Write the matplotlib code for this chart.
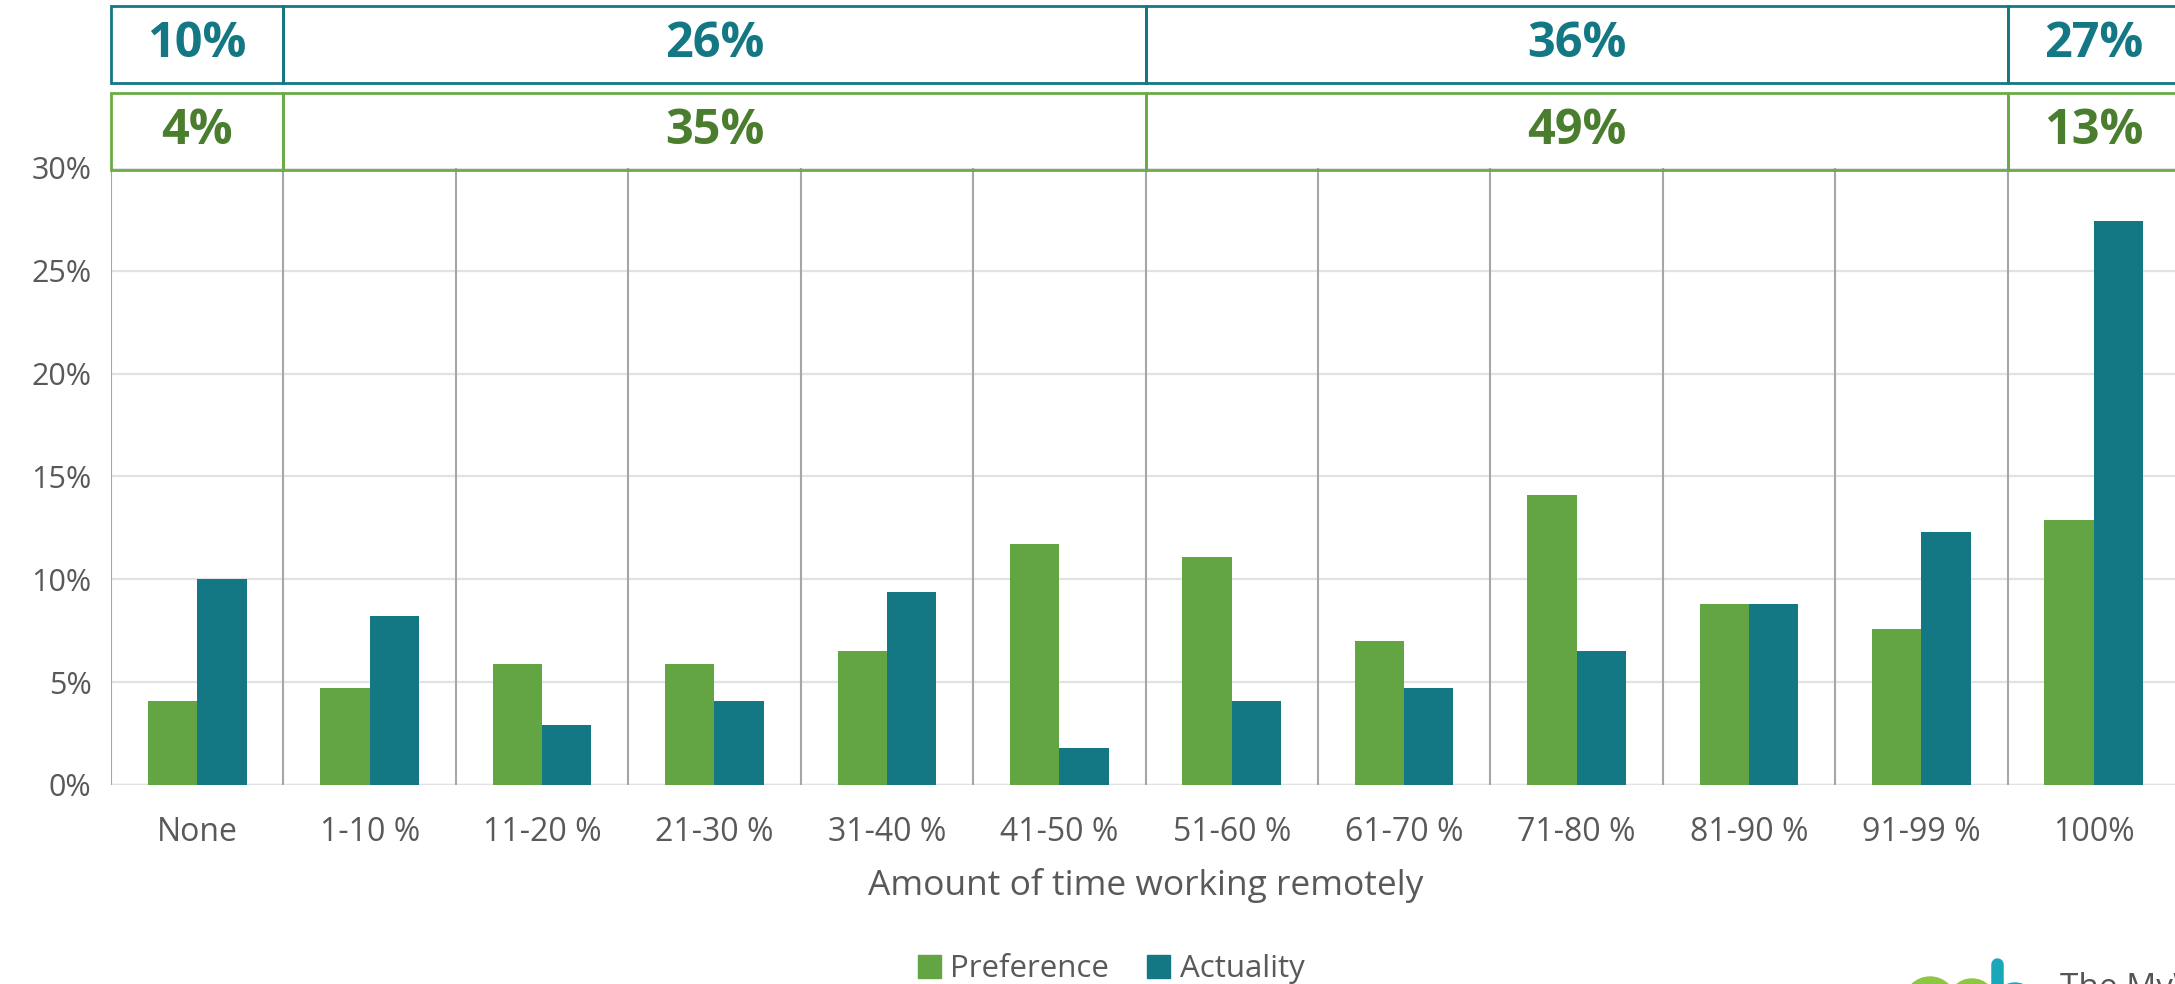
import matplotlib
matplotlib.use("Agg")
import matplotlib.pyplot as plt
import numpy as np
from matplotlib.patches import Rectangle, Circle, Patch
from matplotlib.transforms import blended_transform_factory

plt.rcParams["font.family"] = ["Open Sans", "DejaVu Sans"]

categories = ["None", "1-10 %", "11-20 %", "21-30 %", "31-40 %", "41-50 %",
              "51-60 %", "61-70 %", "71-80 %", "81-90 %", "91-99 %", "100%"]
preference = [4.1, 4.7, 5.9, 5.9, 6.5, 11.7, 11.1, 7.0, 14.1, 8.8, 7.6, 12.9]
actuality = [10.0, 8.2, 2.9, 4.1, 9.4, 1.8, 4.1, 4.7, 6.5, 8.8, 12.3, 27.4]
# category index ranges that are summed in the header boxes
groups = [(0, 1), (1, 6), (6, 11), (11, 12)]

GREEN = "#63a443"
TEAL = "#137884"
GREEN_TXT = "#4a7d2e"
GREY_TXT = "#595959"

W, H = 2175, 984
fig = plt.figure(figsize=(W / 100, H / 100), dpi=100)
ax = fig.add_axes([111 / W, 199 / H, 2069 / W, 617 / H])

x = np.arange(len(categories))
bw = 0.286
ax.bar(x - bw / 2, preference, bw, color=GREEN, label="Preference")
ax.bar(x + bw / 2, actuality, bw, color=TEAL, label="Actuality")

ax.set_xlim(-0.5, len(categories) - 0.5)
ax.set_ylim(0, 30)
ax.set_yticks(range(0, 31, 5))
ax.set_yticklabels([f"{v}%" for v in range(0, 31, 5)])
ax.set_xticks(x)
ax.set_xticklabels(categories)
ax.tick_params(length=0, colors=GREY_TXT)
ax.tick_params(axis="x", pad=22, labelsize=23)
ax.tick_params(axis="y", pad=14, labelsize=22)
for s in ax.spines.values():
    s.set_visible(False)
ax.yaxis.grid(True, color="#e2e2e2", lw=1.6)
ax.set_axisbelow(True)
ax.axhline(0, color="#e2e2e2", lw=2.5, zorder=0)

# category separators
for b in np.arange(-0.5, len(categories) - 0.5, 1.0):
    ax.plot([b, b], [0, 30], color="#a3a6aa", lw=1.5, zorder=1)

ax.set_xlabel("Amount of time working remotely", fontsize=25.5, color=GREY_TXT,
              labelpad=14)

# header boxes with group totals
tr = blended_transform_factory(ax.transData, fig.transFigure)
rows = [(actuality, TEAL, TEAL, 901 / H, 77 / H),
        (preference, "#6aab48", GREEN_TXT, 814 / H, 77 / H)]
for vals, edge, tcol, y0, h in rows:
    for a, b in groups:
        total = sum(vals[a:b])
        r = Rectangle((a - 0.5, y0), b - a, h, transform=tr, fill=False,
                      edgecolor=edge, lw=2, clip_on=False)
        fig.add_artist(r)
        fig.text((a + b - 1) / 2, y0 + h / 2, f"{round(total)}%", transform=tr,
                 ha="center", va="center", fontsize=35, fontweight="bold",
                 color=tcol)

handles = [Patch(color=GREEN), Patch(color=TEAL)]
fig.legend(handles, ["Preference", "Actuality"], loc="center",
           bbox_to_anchor=(1111 / W, 15 / H), ncol=2, frameon=False,
           fontsize=22.5, labelcolor=GREY_TXT, handlelength=0.75,
           handleheight=0.75, handletextpad=0.3, columnspacing=1.2)

# logo corner
lg = fig.add_axes([0, 0, 1, 1], zorder=-1)
lg.set_xlim(0, W)
lg.set_ylim(H, 0)
lg.axis("off")
lg.add_patch(Circle((1930, 1003), 26, color="#8dc63f"))
lg.add_patch(Circle((1972, 1003), 24, color="#8dc63f"))
lg.plot([1997, 1997], [964, 995], color="#1aa7b8", lw=9, solid_capstyle="round")
lg.add_patch(Circle((2015, 1003), 20, color="#1aa7b8"))
lg.text(2060, 972, "The MyWork", fontsize=24, color="#555555", va="top")

fig.savefig("out.png", dpi=100)
